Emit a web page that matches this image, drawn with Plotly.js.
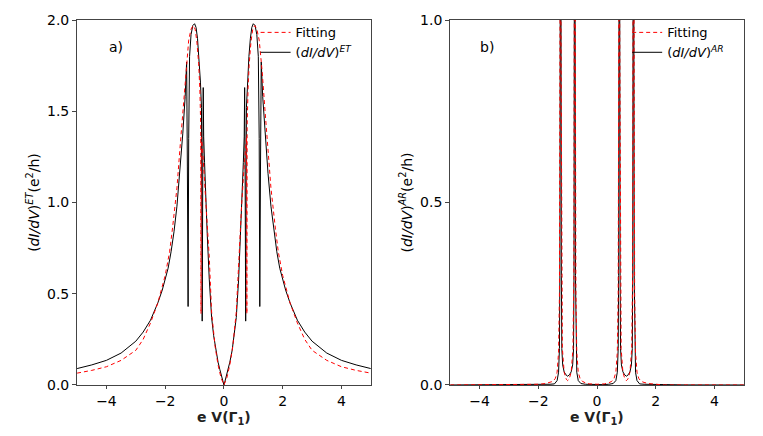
<!DOCTYPE html>
<html>
<head>
<meta charset="utf-8">
<script src="https://cdn.plot.ly/plotly-3.0.1.min.js"></script>
<style>
  html, body { margin: 0; padding: 0; background: #fff; }
  #chart { width: 763px; height: 436px; }
</style>
</head>
<body>
<div id="chart"></div>
<script>
// panel a) : (dI/dV)^ET
const etX = [-5, -4.5, -4, -3.5, -3, -2.75, -2.5, -2.25, -2.1, -2, -1.9, -1.8, -1.7, -1.6, -1.5, -1.4, -1.32, -1.27, -1.245, -1.22, -1.2, -1.17, -1.12, -1.06,
  -1.0, -0.95, -0.9, -0.85, -0.8, -0.765, -0.74, -0.72, -0.705, -0.69, -0.66, -0.62, -0.57, -0.5, -0.42, -0.35, -0.28, -0.2, -0.14, -0.08, -0.03,
  0, 0.03, 0.08, 0.14, 0.2, 0.28, 0.35, 0.42, 0.5, 0.57, 0.62, 0.66, 0.69, 0.705, 0.72, 0.74, 0.765, 0.8, 0.85, 0.9, 0.95, 1.0,
  1.06, 1.12, 1.17, 1.2, 1.22, 1.245, 1.27, 1.32, 1.4, 1.5, 1.6, 1.7, 1.8, 1.9, 2, 2.1, 2.25, 2.5, 2.75, 3, 3.5, 4, 4.5, 5];
const etY = [0.09, 0.11, 0.135, 0.175, 0.24, 0.29, 0.355, 0.45, 0.52, 0.575, 0.64, 0.73, 0.84, 0.98, 1.16, 1.38, 1.58, 1.77, 1.2, 0.43, 1.35, 1.80, 1.92, 1.97,
  1.98, 1.96, 1.90, 1.80, 1.66, 1.52, 0.35, 1.2, 1.63, 1.36, 1.22, 1.03, 0.83, 0.58, 0.37, 0.27, 0.19, 0.125, 0.085, 0.048, 0.017,
  0, 0.017, 0.048, 0.085, 0.125, 0.19, 0.27, 0.37, 0.58, 0.83, 1.03, 1.22, 1.36, 1.63, 1.2, 0.35, 1.52, 1.66, 1.80, 1.90, 1.96, 1.98,
  1.97, 1.92, 1.80, 1.35, 0.43, 1.2, 1.77, 1.58, 1.38, 1.16, 0.98, 0.84, 0.73, 0.64, 0.575, 0.52, 0.45, 0.355, 0.29, 0.24, 0.175, 0.135, 0.11, 0.09];

const etFitX = [-5, -4.5, -4, -3.5, -3, -2.75, -2.5, -2.25, -2, -1.85, -1.75, -1.6, -1.5, -1.4, -1.3, -1.2, -1.12, -1.05, -0.98, -0.92, -0.86, -0.82, -0.79, -0.78, -0.77,
  -0.73, -0.68, -0.6, -0.5, -0.42, -0.3, -0.2, -0.1, 0, 0.1, 0.2, 0.3, 0.42, 0.5, 0.6, 0.68, 0.73,
  0.77, 0.78, 0.79, 0.82, 0.86, 0.92, 0.98, 1.05, 1.12, 1.2, 1.3, 1.4, 1.5, 1.6, 1.75, 1.85, 2, 2.25, 2.5, 2.75, 3, 3.5, 4, 4.5, 5];
const etFitY = [0.065, 0.08, 0.10, 0.135, 0.19, 0.25, 0.34, 0.45, 0.60, 0.73, 0.86, 1.08, 1.29, 1.50, 1.72, 1.89, 1.95, 1.97, 1.95, 1.88, 1.76, 1.62, 1.42, 0.39, 1.36,
  1.30, 1.18, 0.98, 0.70, 0.40, 0.21, 0.11, 0.04, 0, 0.04, 0.11, 0.21, 0.40, 0.70, 0.98, 1.18, 1.30,
  1.36, 0.39, 1.42, 1.62, 1.76, 1.88, 1.95, 1.97, 1.95, 1.89, 1.72, 1.50, 1.29, 1.08, 0.86, 0.73, 0.60, 0.45, 0.34, 0.25, 0.19, 0.135, 0.10, 0.08, 0.065];

// panel b) : (dI/dV)^AR
const arX = [-5, -3, -2.5, -2, -1.6, -1.45, -1.36, -1.31, -1.28, -1.265, -1.25, -1.24, -1.23, -1.215, -1.2, -1.17, -1.12, -1.06,
  -1.0, -0.94, -0.88, -0.83, -0.80, -0.785, -0.77, -0.76, -0.75, -0.735, -0.72, -0.69, -0.64, -0.55, -0.4, -0.2,
  0, 0.2, 0.4, 0.55, 0.64, 0.69, 0.72, 0.735, 0.75, 0.76, 0.77, 0.785, 0.80, 0.83, 0.88, 0.94, 1.0,
  1.06, 1.12, 1.17, 1.2, 1.215, 1.23, 1.24, 1.25, 1.265, 1.28, 1.31, 1.36, 1.45, 1.6, 2, 2.5, 3, 5];
const arY = [0, 0.0002, 0.0005, 0.001, 0.002, 0.003, 0.012, 0.035, 0.1, 0.3, 1.2, 2.0, 1.2, 0.3, 0.1, 0.055, 0.036, 0.028,
  0.024, 0.028, 0.036, 0.055, 0.1, 0.3, 1.2, 2.0, 1.2, 0.3, 0.1, 0.035, 0.012, 0.004, 0.002, 0.001,
  0.001, 0.001, 0.002, 0.004, 0.012, 0.035, 0.1, 0.3, 1.2, 2.0, 1.2, 0.3, 0.1, 0.055, 0.036, 0.028, 0.024,
  0.028, 0.036, 0.055, 0.1, 0.3, 1.2, 2.0, 1.2, 0.3, 0.1, 0.035, 0.012, 0.003, 0.002, 0.001, 0.0005, 0.0002, 0];

const arFitX = [-5, -2.3, -2.0, -1.75, -1.6, -1.5, -1.42, -1.36, -1.31, -1.28, -1.26, -1.245, -1.23, -1.21, -1.18, -1.12, -1.05,
  -1.0, -0.95, -0.88, -0.82, -0.79, -0.77, -0.755, -0.74, -0.72, -0.69, -0.64, -0.58, -0.5, -0.4, -0.25,
  0, 0.25, 0.4, 0.5, 0.58, 0.64, 0.69, 0.72, 0.74, 0.755, 0.77, 0.79, 0.82, 0.88, 0.95, 1.0,
  1.05, 1.12, 1.18, 1.21, 1.23, 1.245, 1.26, 1.28, 1.31, 1.36, 1.42, 1.5, 1.6, 1.75, 2.0, 2.3, 5];
const arFitY = [0, 0, 0.002, 0.004, 0.007, 0.01, 0.018, 0.035, 0.09, 0.25, 1.0, 2.0, 1.0, 0.3, 0.1, 0.035, 0.016,
  0.012, 0.016, 0.035, 0.1, 0.3, 1.0, 2.0, 1.0, 0.25, 0.09, 0.035, 0.018, 0.01, 0.006, 0.003,
  0.002, 0.003, 0.006, 0.01, 0.018, 0.035, 0.09, 0.25, 1.0, 2.0, 1.0, 0.3, 0.1, 0.035, 0.016, 0.012,
  0.016, 0.035, 0.1, 0.3, 1.0, 2.0, 1.0, 0.25, 0.09, 0.035, 0.018, 0.01, 0.007, 0.004, 0.002, 0, 0];

const xTicks = [-4, -2, 0, 2, 4];

const font = 'DejaVu Sans, sans-serif';
const blackLine = { color: 'black', width: 1 };
const redLine = { color: '#ff0000', width: 1, dash: '4px,3px' };

const traces = [
  { x: etX, y: etY, type: 'scatter', mode: 'lines', line: blackLine,
    name: '(<i>dI/dV</i>)<sup><i>ET</i></sup>', xaxis: 'x', yaxis: 'y', legend: 'legend', legendrank: 2 },
  { x: etFitX, y: etFitY, type: 'scatter', mode: 'lines', line: redLine,
    name: 'Fitting', xaxis: 'x', yaxis: 'y', legend: 'legend', legendrank: 1 },
  { x: arX, y: arY, type: 'scatter', mode: 'lines', line: blackLine,
    name: '(<i>dI/dV</i>)<sup><i>AR</i></sup>', xaxis: 'x2', yaxis: 'y2', legend: 'legend2', legendrank: 2 },
  { x: arFitX, y: arFitY, type: 'scatter', mode: 'lines', line: redLine,
    name: 'Fitting', xaxis: 'x2', yaxis: 'y2', legend: 'legend2', legendrank: 1 }
];

function xAxis(domain, anchor) {
  return {
    domain: domain, anchor: anchor, range: [-5, 5], tickvals: xTicks,
    showline: true, mirror: true, linecolor: '#444', linewidth: 1,
    ticks: 'outside', ticklen: 3, tickcolor: '#444',
    showgrid: false, zeroline: false,
    tickfont: { family: font, size: 14, color: 'black' }
  };
}
function yAxis(range, dtick, anchor, title) {
  return {
    domain: [0.117, 0.954], anchor: anchor, range: range, dtick: dtick, tickformat: '.1f',
    showline: true, mirror: true, linecolor: '#444', linewidth: 1,
    ticks: 'outside', ticklen: 4, tickcolor: '#444',
    showgrid: false, zeroline: false,
    tickfont: { family: font, size: 14, color: 'black' },
    title: { text: title, font: { family: font, size: 14, color: 'black' }, standoff: 4 }
  };
}

const legendBase = {
  font: { family: font, size: 13, color: 'black' },
  bgcolor: 'rgba(0,0,0,0)', xanchor: 'left', yanchor: 'top', itemwidth: 30
};

// x-axis titles placed as annotations so they sit as close to the ticks as in the picture
const xTitle = '<b>e V(Γ<sub>1</sub>)</b>';
function xTitleNote(xc) {
  return { text: xTitle, x: xc, y: 0.041, xref: 'paper', yref: 'paper', xanchor: 'center', yanchor: 'middle',
    showarrow: false, font: { family: font, size: 14, color: '#222' } };
}

const layout = {
  width: 763, height: 436,
  margin: { l: 0, r: 0, t: 0, b: 0 },
  paper_bgcolor: 'white', plot_bgcolor: 'white',
  showlegend: true,
  xaxis: xAxis([0.101, 0.486], 'y'),
  yaxis: yAxis([0, 2], 0.5, 'x', '(<i>dI/dV</i>)<sup><i>ET</i></sup>(e<sup>2</sup>/h)'),
  xaxis2: xAxis([0.590, 0.975], 'y2'),
  yaxis2: yAxis([0, 1], 0.5, 'x2', '(<i>dI/dV</i>)<sup><i>AR</i></sup>(e<sup>2</sup>/h)'),
  legend: Object.assign({ x: 0.335, y: 0.96 }, legendBase),
  legend2: Object.assign({ x: 0.822, y: 0.96 }, legendBase),
  annotations: [
    { text: 'a)', x: -3.68, y: 1.85, xref: 'x', yref: 'y', showarrow: false, font: { family: font, size: 14, color: 'black' } },
    { text: 'b)', x: -3.76, y: 0.925, xref: 'x2', yref: 'y2', showarrow: false, font: { family: font, size: 14, color: 'black' } },
    xTitleNote(0.2935),
    xTitleNote(0.7825)
  ]
};

Plotly.newPlot('chart', traces, layout, { displayModeBar: false, staticPlot: true });
</script>
</body>
</html>
